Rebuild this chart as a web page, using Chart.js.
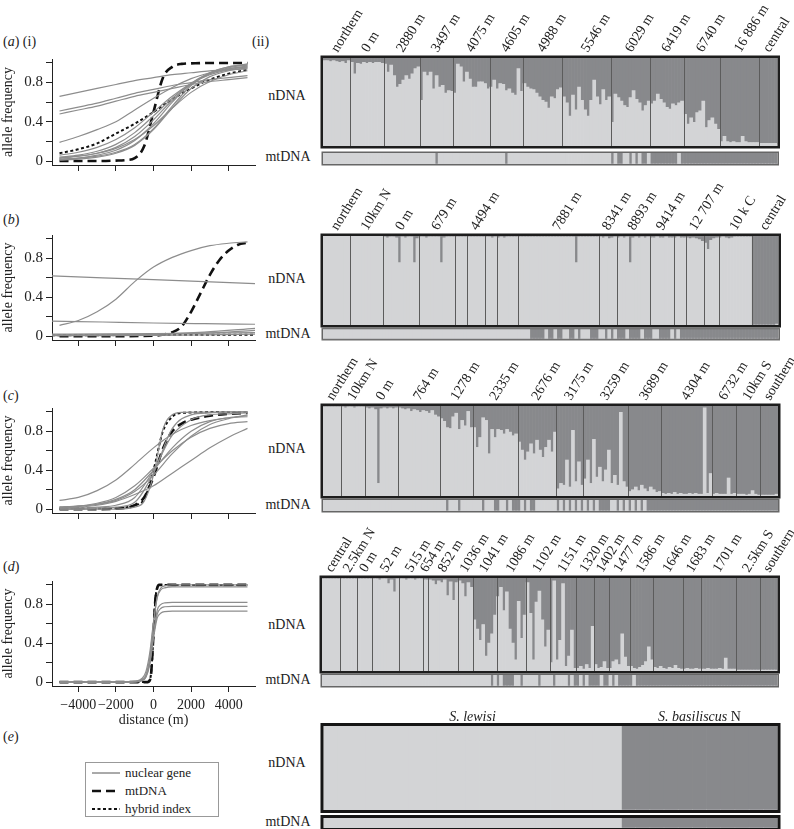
<!DOCTYPE html>
<html>
<head>
<meta charset="utf-8">
<title>Clines and structure plots</title>
<script src="https://cdn.jsdelivr.net/npm/chart.js@4.4.1/dist/chart.umd.min.js"></script>
<style>
  body { margin: 0; background: #fff; }
  #page { position: relative; width: 794px; height: 829px; overflow: hidden; font-family: "Liberation Serif", "DejaVu Serif", serif; color: #222; }
  #page canvas { position: absolute; }
  .lbl { position: absolute; font-size: 14px; white-space: nowrap; transform: translate(-50%, -50%); }
  .tag { position: absolute; font-size: 14px; white-space: nowrap; transform: translateY(-50%); }
  #legend { position: absolute; left: 85px; top: 762px; width: 134px; height: 55px; border: 1px solid #999; font-size: 13px; padding-top: 1px; box-sizing: border-box; }
  #legend div { height: 18px; display: flex; align-items: center; }
  #legend svg { margin: 0 5px 0 6px; }
</style>
</head>
<body>
<div id="page">
  <div class="tag" style="left:3px;top:42px">(<i>a</i>) (i)</div>
  <div class="tag" style="left:252px;top:42px">(ii)</div>
  <div class="tag" style="left:3px;top:220px">(<i>b</i>)</div>
  <div class="tag" style="left:3px;top:396px">(<i>c</i>)</div>
  <div class="tag" style="left:3px;top:567px">(<i>d</i>)</div>
  <div class="tag" style="left:3px;top:737px">(<i>e</i>)</div>

  <div class="lbl" style="left:287px;top:96px">nDNA</div>
  <div class="lbl" style="left:288px;top:157px">mtDNA</div>
  <div class="lbl" style="left:287px;top:279px">nDNA</div>
  <div class="lbl" style="left:288px;top:334px">mtDNA</div>
  <div class="lbl" style="left:287px;top:449px">nDNA</div>
  <div class="lbl" style="left:288px;top:505px">mtDNA</div>
  <div class="lbl" style="left:287px;top:625px">nDNA</div>
  <div class="lbl" style="left:288px;top:680px">mtDNA</div>
  <div class="lbl" style="left:287px;top:763px">nDNA</div>
  <div class="lbl" style="left:288px;top:822px">mtDNA</div>

  <div id="legend">
    <div><svg width="28" height="6"><line x1="0" y1="3" x2="28" y2="3" stroke="#555" stroke-width="1"/></svg>nuclear gene</div>
    <div><svg width="28" height="6"><line x1="0" y1="3" x2="28" y2="3" stroke="#111" stroke-width="2.6" stroke-dasharray="9 5"/></svg>mtDNA</div>
    <div><svg width="28" height="6"><line x1="0" y1="3" x2="28" y2="3" stroke="#111" stroke-width="2" stroke-dasharray="3 2.5"/></svg>hybrid index</div>
  </div>
</div>

<script>
// --- cline data (distance in m, allele frequency) ---
const dist = [-5000, -4000, -3000, -2000, -1000, 0, 1000, 2000, 3000, 4000, 5000];

const aGenes = [
  [0.66, 0.70, 0.74, 0.78, 0.82, 0.85, 0.88, 0.90, 0.92, 0.93, 0.94],
  [0.51, 0.55, 0.59, 0.64, 0.69, 0.73, 0.77, 0.80, 0.83, 0.85, 0.87],
  [0.48, 0.52, 0.56, 0.61, 0.66, 0.70, 0.74, 0.78, 0.81, 0.83, 0.85],
  [0.19, 0.25, 0.32, 0.40, 0.52, 0.64, 0.75, 0.84, 0.90, 0.94, 0.96],
  [0.06, 0.09, 0.14, 0.22, 0.34, 0.50, 0.66, 0.79, 0.88, 0.93, 0.96],
  [0.04, 0.06, 0.10, 0.17, 0.29, 0.46, 0.64, 0.79, 0.89, 0.94, 0.97],
  [0.03, 0.05, 0.08, 0.14, 0.25, 0.42, 0.62, 0.78, 0.89, 0.95, 0.98],
  [0.02, 0.03, 0.06, 0.11, 0.21, 0.38, 0.60, 0.79, 0.90, 0.96, 0.98],
  [0.02, 0.03, 0.05, 0.09, 0.17, 0.33, 0.56, 0.77, 0.90, 0.96, 0.99],
  [0.01, 0.02, 0.04, 0.08, 0.16, 0.32, 0.54, 0.74, 0.86, 0.92, 0.95],
  [0.03, 0.05, 0.08, 0.13, 0.22, 0.36, 0.54, 0.70, 0.81, 0.88, 0.92]
];
const aHybrid = [0.08, 0.12, 0.18, 0.28, 0.38, 0.50, 0.63, 0.74, 0.83, 0.89, 0.93];
const aMtX = [-5000, -3000, -2000, -1500, -1000, -500, 0, 500, 1000, 1500, 2000, 3000, 5000];
const aMtY = [0, 0, 0.005, 0.01, 0.03, 0.15, 0.5, 0.85, 0.96, 0.99, 0.995, 1, 1];

const bRising = [0.11, 0.16, 0.25, 0.38, 0.56, 0.71, 0.81, 0.88, 0.93, 0.955, 0.97];
const bWideX = [-5400, -2700, 0, 2700, 5400];
const bFlat = [
  [0.62, 0.60, 0.58, 0.56, 0.54],
  [0.155, 0.145, 0.135, 0.128, 0.122],
  [0.01, 0.012, 0.02, 0.04, 0.08],
  [0.01, 0.012, 0.018, 0.03, 0.06],
  [0.02, 0.022, 0.025, 0.03, 0.035],
  [0.005, 0.006, 0.008, 0.012, 0.02]
];
const bHybrid = [0.01, 0.01, 0.012, 0.014, 0.015];
const bMtX = [-5000, -2000, 0, 1000, 1500, 2000, 2500, 3000, 3500, 4000, 4500, 5000];
const bMtY = [0, 0, 0.005, 0.04, 0.1, 0.25, 0.44, 0.63, 0.78, 0.88, 0.94, 0.96];

const cGenes = [
  [0.09, 0.12, 0.19, 0.30, 0.46, 0.63, 0.77, 0.86, 0.91, 0.94, 0.95],
  [0.01, 0.02, 0.04, 0.08, 0.15, 0.24, 0.37, 0.50, 0.63, 0.74, 0.83],
  [0.02, 0.03, 0.06, 0.12, 0.24, 0.42, 0.60, 0.74, 0.83, 0.88, 0.90],
  [0.02, 0.03, 0.05, 0.10, 0.20, 0.40, 0.63, 0.80, 0.90, 0.94, 0.96],
  [0.01, 0.01, 0.02, 0.04, 0.12, 0.40, 0.76, 0.92, 0.97, 0.98, 0.99],
  [0, 0, 0.01, 0.02, 0.07, 0.37, 0.83, 0.97, 0.99, 1, 1],
  [0.02, 0.03, 0.05, 0.09, 0.18, 0.35, 0.57, 0.75, 0.87, 0.93, 0.97]
];
const cSteepX = [-5000, -2000, -1000, -500, 0, 500, 1000, 1500, 5000];
const cSteep = [0, 0, 0.02, 0.08, 0.35, 0.82, 0.97, 0.995, 1];
const cHybrid = [0.005, 0.01, 0.04, 0.1, 0.4, 0.8, 0.95, 0.99, 1];
const cMtX = [-5000, -3000, -2000, -1000, -500, 0, 500, 1000, 1500, 2000, 3000, 4000, 5000];
const cMtY = [0, 0, 0.005, 0.04, 0.12, 0.33, 0.62, 0.8, 0.88, 0.92, 0.96, 0.98, 0.99];

const dDist = [-5000, -2000, -1000, -600, -400, -200, 0, 200, 400, 600, 1000, 2000, 5000];
const dGenes = [
  [0, 0, 0.005, 0.03, 0.08, 0.25, 0.60, 0.88, 0.97, 0.99, 1, 1, 1],
  [0, 0, 0.01, 0.04, 0.11, 0.30, 0.62, 0.87, 0.95, 0.97, 0.98, 0.98, 0.98],
  [0, 0, 0.003, 0.02, 0.06, 0.20, 0.50, 0.74, 0.80, 0.815, 0.82, 0.82, 0.82],
  [0, 0, 0.004, 0.02, 0.06, 0.20, 0.48, 0.70, 0.76, 0.775, 0.78, 0.78, 0.78],
  [0, 0, 0.003, 0.015, 0.05, 0.18, 0.45, 0.66, 0.71, 0.725, 0.73, 0.73, 0.73]
];
const dHybX = [-5000, -400, -200, -100, 0, 100, 200, 400, 5000];
const dHybrid = [0, 0, 0.02, 0.15, 0.5, 0.85, 0.97, 1, 1];
const dMtX = [-5000, -300, -150, 0, 100, 200, 300, 5000];
const dMtY = [0, 0, 0.05, 0.5, 0.85, 0.97, 1, 1];

// --- structure data: sampling sites and per-individual admixture (dark = second cluster) ---
const aPops = ['northern', '0 m', '2880 m', '3497 m', '4075 m', '4605 m', '4988 m', '5546 m', '6029 m', '6419 m', '6740 m', '16 886 m', 'central'];
const aNuc = [
  [0.03, 0.03, 0.04, 0.03, 0.04, 0.05, 0.04, 0.06, 0.03],
  [0.05, 0.18, 0.06, 0.07, 0.05, 0.06, 0.05, 0.06, 0.05, 0.05, 0.06],
  [0.07, 0.16, 0.08, 0.2, 0.33, 0.3, 0.25, 0.2, 0.24, 0.18, 0.12, 0.1],
  [0.48, 0.16, 0.2, 0.16, 0.35, 0.2, 0.33, 0.31, 0.4, 0.37, 0.38],
  [0.4, 0.07, 0.1, 0.27, 0.16, 0.24, 0.33, 0.33, 0.27, 0.27, 0.29, 0.35],
  [0.33, 0.25, 0.35, 0.29, 0.3, 0.37, 0.35, 0.4, 0.42, 0.12, 0.38],
  [0.29, 0.33, 0.35, 0.36, 0.4, 0.44, 0.48, 0.5, 0.57, 0.44, 0.46, 0.36, 0.34],
  [0.44, 0.51, 0.66, 0.42, 0.59, 0.33, 0.48, 0.59, 0.66, 0.48, 0.25, 0.44, 0.53, 0.36, 0.48, 0.44],
  [0.73, 0.41, 0.45, 0.49, 0.54, 0.56, 0.45, 0.37, 0.47, 0.51, 0.6, 0.54, 0.49],
  [0.52, 0.49, 0.41, 0.47, 0.51, 0.56, 0.58, 0.52, 0.54, 0.51, 0.49],
  [0.64, 0.75, 0.68, 0.73, 0.62, 0.6, 0.49, 0.79, 0.71, 0.68, 0.75, 0.81],
  [0.95, 0.89, 0.95, 0.96, 0.95, 0.96, 0.96, 0.89, 0.95, 0.96, 0.96, 0.96, 0.96],
  [0.97, 0.97, 0.97, 0.97, 0.97, 0.97]
];
const aMt = [
  [0, 0, 0, 0, 0, 0, 0, 0, 0],
  [0, 0, 0, 0, 0, 0, 0, 0, 0, 0, 0],
  [0, 0, 0, 0, 0, 0, 0, 0, 0, 0, 0, 0],
  [0, 0, 0, 0, 0, 1, 0, 0, 0, 0, 0],
  [0, 0, 0, 0, 0, 0, 0, 0, 0, 0, 0, 0],
  [0, 0, 0, 0, 0, 1, 0, 0, 0, 0, 0],
  [0, 0, 0, 0, 0, 0, 0, 0, 0, 0, 0, 0, 0],
  [0, 0, 0, 0, 0, 0, 0, 0, 0, 0, 0, 0, 0, 0, 0, 0],
  [1, 0, 1, 1, 0, 0, 1, 0, 1, 0, 1, 1, 0],
  [1, 1, 1, 1, 1, 1, 1, 1, 1, 0, 1],
  [1, 1, 1, 1, 1, 1, 1, 1, 1, 1, 1, 1],
  [1, 1, 1, 1, 1, 1, 1, 1, 1, 1, 1, 1, 1],
  [1, 1, 1, 1, 1, 1]
];

const bPops = ['northern', '10km N', '0 m', '679 m', '', '4494 m', '', '', '7881 m', '8341 m', '8893 m', '9414 m', '', '12 707 m', '', '10 k C', 'central'];
const bNuc = [
  [0, 0, 0, 0, 0, 0, 0, 0, 0],
  [0, 0, 0, 0, 0, 0, 0, 0, 0, 0, 0],
  [0.01, 0.02, 0.01, 0.01, 0.02, 0.3, 0.01, 0.02, 0.01, 0.01, 0.3, 0.03],
  [0.01, 0.01, 0.02, 0.01, 0.01, 0.01, 0.01, 0.3, 0.02, 0.01, 0.01, 0.01],
  [0.01, 0.01, 0.01, 0.01],
  [0.01, 0.01, 0.01, 0.01, 0.01, 0.01],
  [0.01, 0.01, 0.02, 0.01],
  [0.02, 0.01, 0.02, 0.01, 0.01, 0.01, 0.01],
  [0.01, 0.01, 0.01, 0.01, 0.01, 0.01, 0.01, 0.01, 0.01, 0.01, 0.01, 0.01, 0.01, 0.01, 0.01, 0.01, 0.01, 0.01, 0.01, 0.3, 0.01, 0.01, 0.01, 0.01, 0.01, 0.01, 0.01],
  [0.01, 0.02, 0.01, 0.03, 0.02, 0.01],
  [0.02, 0.01, 0.02, 0.01, 0.3, 0.02, 0.01, 0.02, 0.01, 0.02, 0.01],
  [0.02, 0.02, 0.01, 0.02, 0.02, 0.01, 0.02, 0.02],
  [0.02, 0.01, 0.02, 0.02],
  [0.02, 0.03, 0.02, 0.03, 0.04, 0.06],
  [0.08, 0.15, 0.05, 0.03, 0.02],
  [0.02, 0.01, 0.02, 0.03, 0.02, 0.01, 0.01, 0.01, 0.01, 0.01, 0.01],
  [1, 1, 1, 1, 1, 1, 1, 1, 0.99]
];
const bMt = [
  [0, 0, 0, 0, 0, 0, 0, 0, 0],
  [0, 0, 0, 0, 0, 0, 0, 0, 0, 0, 0],
  [0, 0, 0, 0, 0, 0, 0, 0, 0, 0, 0, 0],
  [0, 0, 0, 0, 0, 0, 0, 0, 0, 0, 0, 0],
  [0, 0, 0, 0],
  [0, 0, 0, 0, 0, 0],
  [0, 0, 0, 0],
  [0, 0, 0, 0, 0, 0, 0],
  [0, 0, 0, 0, 1, 1, 1, 1, 1, 0, 1, 1, 0, 1, 1, 0, 0, 1, 1, 0, 1, 0, 0, 0, 1, 1, 1],
  [0, 0, 1, 0, 1, 0],
  [1, 1, 1, 0, 1, 1, 1, 1, 0, 1, 1],
  [1, 0, 0, 1, 1, 1, 1, 0],
  [1, 0, 1, 1],
  [1, 1, 1, 1, 1, 1],
  [1, 1, 1, 1, 1],
  [1, 1, 1, 1, 1, 1, 1, 1, 1, 1, 1],
  [1, 1, 1, 1, 1, 1, 1, 1, 1]
];

const cPops = ['northern', '10km N', '0 m', '764 m', '1278 m', '2335 m', '2676 m', '3175 m', '3259 m', '3689 m', '4304 m', '6732 m', '10km S', 'southern'];
const cNuc = [
  [0.01, 0.01, 0.01, 0.01, 0.01, 0.01],
  [0.01, 0.02, 0.01, 0.01, 0.02, 0.01, 0.01, 0.01],
  [0.02, 0.03, 0.02, 0.04, 0.86, 0.03, 0.02, 0.03, 0.02, 0.03, 0.02],
  [0.02, 0.03, 0.04, 0.03, 0.06, 0.04, 0.05, 0.07, 0.05, 0.06, 0.08, 0.05, 0.1, 0.12],
  [0.14, 0.17, 0.24, 0.25, 0.12, 0.08, 0.26, 0.16, 0.22, 0.06, 0.24],
  [0.24, 0.46, 0.35, 0.13, 0.16, 0.53, 0.26, 0.35, 0.26, 0.27, 0.31, 0.26, 0.29, 0.33, 0.31],
  [0.4, 0.49, 0.6, 0.51, 0.42, 0.53, 0.38, 0.49, 0.57, 0.46, 0.38, 0.51, 0.29],
  [0.92, 0.86, 0.88, 0.6, 0.9, 0.27, 0.84, 0.62, 0.88],
  [0.81, 0.6, 0.86, 0.37, 0.79, 0.68, 0.84, 0.71, 0.49, 0.86, 0.77, 0.88, 0.07, 0.84, 0.9],
  [0.95, 0.93, 0.9, 0.94, 0.88, 0.92, 0.95, 0.9, 0.93, 0.96, 0.95],
  [0.97, 0.98, 0.97, 0.98, 0.96, 0.98, 0.97, 0.98, 0.98, 0.97, 0.98, 0.97, 0.98, 0.98, 0.02, 0.97, 0.75],
  [0.98, 0.97, 0.98, 0.98, 0.98, 0.8, 0.98, 0.97],
  [0.98, 0.98, 0.98, 0.99, 0.98, 0.94, 0.98, 0.99],
  [0.99, 0.99, 0.99, 0.99, 0.99, 0.98]
];
const cMt = [
  [0, 0, 0, 0, 0, 0],
  [0, 0, 0, 0, 0, 0, 0, 0],
  [0, 0, 0, 0, 0, 0, 0, 0, 0, 0, 0],
  [0, 0, 0, 0, 0, 0, 0, 0, 0, 0, 0, 0, 0, 0],
  [0, 0, 1, 0, 0, 0, 1, 0, 0, 0, 0],
  [0, 0, 0, 1, 0, 0, 0, 1, 1, 0, 0, 1, 0, 1, 1],
  [1, 0, 1, 0, 1, 1, 0, 0, 0, 0, 0, 0, 0],
  [1, 0, 1, 0, 1, 0, 1, 0, 1],
  [0, 1, 0, 1, 0, 1, 1, 1, 1, 0, 0, 1, 0, 1, 0],
  [1, 0, 1, 0, 1, 0, 1, 1, 1, 1, 1],
  [1, 1, 1, 1, 1, 1, 1, 1, 1, 1, 1, 1, 1, 1, 1, 1, 1],
  [1, 1, 1, 1, 1, 1, 1, 1],
  [1, 1, 1, 1, 1, 1, 1, 1],
  [1, 1, 1, 1, 1, 1]
];

const dPops = ['central', '2.5km N', '0 m', '52 m', '515 m', '654 m', '852 m', '1036 m', '1041 m', '1086 m', '1102 m', '1151 m', '1320 m', '1402 m', '1477 m', '1586 m', '1646 m', '1683 m', '1701 m', '2.5km S', 'southern'];
const dNuc = [
  [0.01, 0.01, 0.01, 0.01, 0.01, 0.01],
  [0.01, 0.01, 0.01, 0.01, 0.01, 0.01],
  [0.01, 0.01, 0.01, 0.01, 0.01],
  [0.01, 0.01, 0.02, 0.01, 0.01, 0.06, 0.02, 0.15, 0.01],
  [0.01, 0.01, 0.02, 0.01, 0.01, 0.02, 0.01, 0.01],
  [0.02, 0.02],
  [0.02, 0.03, 0.07, 0.03, 0.05, 0.02, 0.19, 0.04, 0.24, 0.05],
  [0.03, 0.06, 0.2, 0.05, 0.1],
  [0.45, 0.55, 0.67, 0.5, 0.84, 0.7, 0.6, 0.4],
  [0.2, 0.1, 0.35, 0.15, 0.55, 0.7, 0.88, 0.25, 0.65, 0.4],
  [0.05, 0.38, 0.88, 0.26, 0.14, 0.45, 0.74, 0.56],
  [0.91, 0.03, 0.88, 0.67, 0.06, 0.95, 0.84, 0.56, 0.97],
  [0.97, 0.95, 0.98, 0.93, 0.97, 0.52],
  [0.93, 0.97, 0.96, 0.9, 0.97],
  [0.97, 0.9, 0.88, 0.93, 0.6, 0.85, 0.95],
  [0.95, 0.97, 0.98, 0.96, 0.94, 0.9, 0.74, 0.88],
  [0.96, 0.97, 0.95, 0.97, 0.98, 0.96, 0.97, 0.94, 0.97, 0.98],
  [0.98, 0.97, 0.98, 0.98, 0.97, 0.98],
  [0.98, 0.98, 0.97, 0.98, 0.98, 0.98, 0.97, 0.98, 0.86, 0.98, 0.98, 0.98],
  [0.99, 0.99, 0.99, 0.99, 0.99, 0.99, 0.99, 0.99],
  [0.99, 0.99, 0.99, 0.99, 0.99, 0.99]
];
const dMt = [
  [0, 0, 0, 0, 0, 0],
  [0, 0, 0, 0, 0, 0],
  [0, 0, 0, 0, 0],
  [0, 0, 0, 0, 0, 0, 0, 0, 0],
  [0, 0, 0, 0, 0, 0, 0, 0],
  [0, 0],
  [0, 0, 0, 0, 0, 0, 0, 0, 0, 0],
  [0, 0, 0, 0, 0],
  [0, 0, 0, 0, 0, 0, 1, 0],
  [1, 0, 1, 1, 1, 1, 0, 0, 1, 0],
  [0, 0, 0, 0, 1, 0, 0, 0],
  [0, 1, 0, 0, 0, 0, 1, 0, 1],
  [1, 0, 1, 0, 1, 1],
  [1, 1, 0, 1, 1],
  [0, 1, 0, 1, 1, 1, 1],
  [1, 0, 1, 1, 1, 1, 1, 1],
  [1, 1, 1, 1, 1, 1, 1, 1, 1, 1],
  [1, 1, 1, 1, 1, 1],
  [1, 1, 1, 1, 1, 1, 1, 1, 1, 1, 1, 1],
  [1, 1, 1, 1, 1, 1, 1, 1],
  [1, 1, 1, 1, 1, 1]
];

const ePops = ['S. lewisi', 'S. basiliscus N'];
const eNuc = [
  [0, 0, 0, 0, 0, 0, 0, 0, 0, 0, 0, 0, 0, 0, 0, 0, 0, 0, 0, 0, 0],
  [1, 1, 1, 1, 1, 1, 1, 1, 1, 1, 1]
];
const eMt = [
  [0, 0, 0, 0, 0, 0, 0, 0, 0, 0, 0, 0, 0, 0, 0, 0, 0, 0, 0, 0, 0],
  [1, 1, 1, 1, 1, 1, 1, 1, 1, 1, 1]
];

// --- styling ---
const FONT = '"Liberation Serif", "DejaVu Serif", serif';
Chart.defaults.font.family = FONT;
Chart.defaults.color = '#222';
const LIGHT = '#d3d4d6', DARK = '#88898c', SEP = '#5c5c5c', GENE = '#8d8d8d';

const page = document.getElementById('page');

function addCanvas(left, top, w, h) {
  const c = document.createElement('canvas');
  c.width = w; c.height = h;
  c.style.left = left + 'px'; c.style.top = top + 'px';
  c.style.width = w + 'px'; c.style.height = h + 'px';
  page.appendChild(c);
  return c;
}

const pts = (xs, ys) => xs.map((x, i) => ({ x: x, y: ys[i] }));

// --- left column: fitted clines ---
function cline(top, h, genes, hybrid, mt, withLabels) {
  const axisH = withLabels ? 46 : 14;
  const c = addCanvas(0, top - 10, 262, 10 + h + axisH);
  const sets = genes.map(g => ({ data: pts(g[0], g[1]), borderColor: GENE, borderWidth: 1.2 }));
  sets.push({ data: pts(hybrid[0], hybrid[1]), borderColor: '#111', borderWidth: 2, borderDash: [3, 2.5] });
  sets.push({ data: pts(mt[0], mt[1]), borderColor: '#111', borderWidth: 2.6, borderDash: [9, 5] });

  new Chart(c, {
    type: 'line',
    data: { datasets: sets },
    options: {
      responsive: false,
      animation: false,
      layout: { padding: { top: 10, right: 7, left: 0, bottom: 0 } },
      elements: { point: { radius: 0 }, line: { cubicInterpolationMode: 'monotone', fill: false } },
      plugins: { legend: { display: false }, tooltip: { enabled: false } },
      scales: {
        x: {
          type: 'linear', min: -5400, max: 5400,
          afterBuildTicks: s => { s.ticks = [-4000, -2000, 0, 2000, 4000].map(v => ({ value: v })); },
          afterFit: s => { s.height = axisH; },
          grid: { drawOnChartArea: false, drawTicks: true, tickLength: 6, color: '#222' },
          border: { color: '#222', width: 1 },
          ticks: {
            display: withLabels, padding: 5, maxRotation: 0, font: { size: 14 },
            callback: v => (v < 0 ? '\u2212' + (-v) : String(v))
          },
          title: { display: withLabels, text: 'distance (m)', font: { size: 14 }, padding: { top: 0, bottom: 3 } }
        },
        y: {
          type: 'linear', min: -0.04, max: 1.04,
          afterBuildTicks: s => { s.ticks = [0, 0.2, 0.4, 0.6, 0.8, 1].map(v => ({ value: v })); },
          afterFit: s => { s.width = 52; },
          grid: { drawOnChartArea: false, drawTicks: true, tickLength: 6, color: '#222' },
          border: { color: '#222', width: 1 },
          ticks: { padding: 3, font: { size: 15 }, callback: v => ([0, 0.4, 0.8].includes(v) ? String(v) : '') },
          title: { display: true, text: 'allele frequency', font: { size: 14 }, padding: 0 }
        }
      }
    }
  });
}

cline(57, 108, aGenes.map(g => [dist, g]), [dist, aHybrid], [aMtX, aMtY], false);
cline(233, 107, [[dist, bRising]].concat(bFlat.map(g => [bWideX, g])), [bWideX, bHybrid], [bMtX, bMtY], false);
cline(406, 107, cGenes.map(g => [dist, g]).concat([[cSteepX, cSteep]]), [cSteepX, cHybrid], [cMtX, cMtY], false);
cline(579, 107, dGenes.map(g => [dDist, g]), [dHybX, dHybrid], [dMtX, dMtY], true);

// --- right column: structure bar plots ---
function structurePlugin(cfg) {
  return {
    id: 'structure',
    afterDatasetsDraw(chart) {
      const { ctx, chartArea: a, scales: { x } } = chart;
      ctx.save();
      if (cfg.separators) {
        ctx.strokeStyle = SEP;
        ctx.lineWidth = 1;
        cfg.bounds.forEach(k => {
          const px = Math.round(x.getPixelForValue(k - 0.5)) + 0.5;
          ctx.beginPath(); ctx.moveTo(px, a.top); ctx.lineTo(px, a.bottom); ctx.stroke();
        });
      }
      const hw = cfg.frameWidth / 2;
      ctx.strokeStyle = cfg.frame;
      ctx.lineWidth = cfg.frameWidth;
      ctx.strokeRect(a.left - hw, a.top - hw, a.right - a.left + 2 * hw, a.bottom - a.top + 2 * hw);

      ctx.fillStyle = '#222';
      if (cfg.labels === 'slant') {
        ctx.font = '14px ' + FONT;
        ctx.textAlign = 'left';
        ctx.textBaseline = 'middle';
        cfg.pops.forEach((p, i) => {
          if (!p) return;
          const px = x.getPixelForValue(cfg.centres[i]);
          ctx.save();
          ctx.translate(px - 2, a.top - 7);
          ctx.rotate(-58 * Math.PI / 180);
          ctx.fillText(p, 0, 0);
          ctx.restore();
        });
      } else if (cfg.labels === 'flat') {
        ctx.textBaseline = 'middle';
        ctx.textAlign = 'left';
        cfg.pops.forEach((p, i) => {
          const m = p.match(/^(S\. \S+)(.*)$/);
          const px = x.getPixelForValue(cfg.centres[i]);
          ctx.font = 'italic 14px ' + FONT;
          const w1 = ctx.measureText(m[1]).width;
          ctx.font = '14px ' + FONT;
          const w2 = ctx.measureText(m[2]).width;
          const x0 = px - (w1 + w2) / 2;
          ctx.font = 'italic 14px ' + FONT;
          ctx.fillText(m[1], x0, a.top - 9);
          ctx.font = '14px ' + FONT;
          ctx.fillText(m[2], x0 + w1, a.top - 9);
        });
      }
      ctx.restore();
    }
  };
}

function structure(box, pops, rows, opt) {
  const [l, t, r, b] = box;
  const padTop = opt.labels ? 60 : 3;
  const c = addCanvas(300, t - padTop, 494, padTop + (b - t) + 3);
  const vals = rows.flat();
  const bounds = [], centres = [];
  let n = 0;
  rows.forEach(row => { centres.push(n + (row.length - 1) / 2); n += row.length; bounds.push(n); });
  bounds.pop();

  new Chart(c, {
    type: 'bar',
    data: {
      labels: vals.map((v, i) => i),
      datasets: [
        { data: vals.map(v => 1 - v), backgroundColor: LIGHT },
        { data: vals, backgroundColor: DARK }
      ]
    },
    options: {
      responsive: false,
      animation: false,
      layout: { padding: { left: l - 300, right: 794 - r, top: padTop, bottom: 3 } },
      datasets: { bar: { barPercentage: 1, categoryPercentage: 1, borderWidth: 0 } },
      scales: {
        x: { display: false, stacked: true },
        y: { display: false, stacked: true, min: 0, max: 1 }
      },
      plugins: { legend: { display: false }, tooltip: { enabled: false } }
    },
    plugins: [structurePlugin(Object.assign({ pops, bounds, centres }, opt))]
  });
}

const nucStyle = { separators: true, frame: '#1d1d1d', frameWidth: 2.5, labels: 'slant' };
const mtStyle = { separators: false, frame: '#666', frameWidth: 1.5, labels: null };

structure([323, 58, 777.5, 146], aPops, aNuc, nucStyle);
structure([323, 152.5, 777.5, 163.5], aPops, aMt, mtStyle);
structure([323, 235.5, 778.5, 324.5], bPops, bNuc, nucStyle);
structure([323, 329, 778.5, 338.5], bPops, bMt, mtStyle);
structure([323, 405.5, 778, 495.5], cPops, cNuc, nucStyle);
structure([323, 500, 778, 511], cPops, cMt, mtStyle);
structure([322, 578, 777.5, 671], dPops, dNuc, nucStyle);
structure([322, 675, 777.5, 686], dPops, dMt, mtStyle);
structure([323.5, 725.5, 777.5, 810], ePops, eNuc, { separators: false, frame: '#151515', frameWidth: 3, labels: 'flat' });
structure([323.5, 817.5, 777.5, 828], ePops, eMt, { separators: false, frame: '#151515', frameWidth: 3, labels: null });
</script>
</body>
</html>
